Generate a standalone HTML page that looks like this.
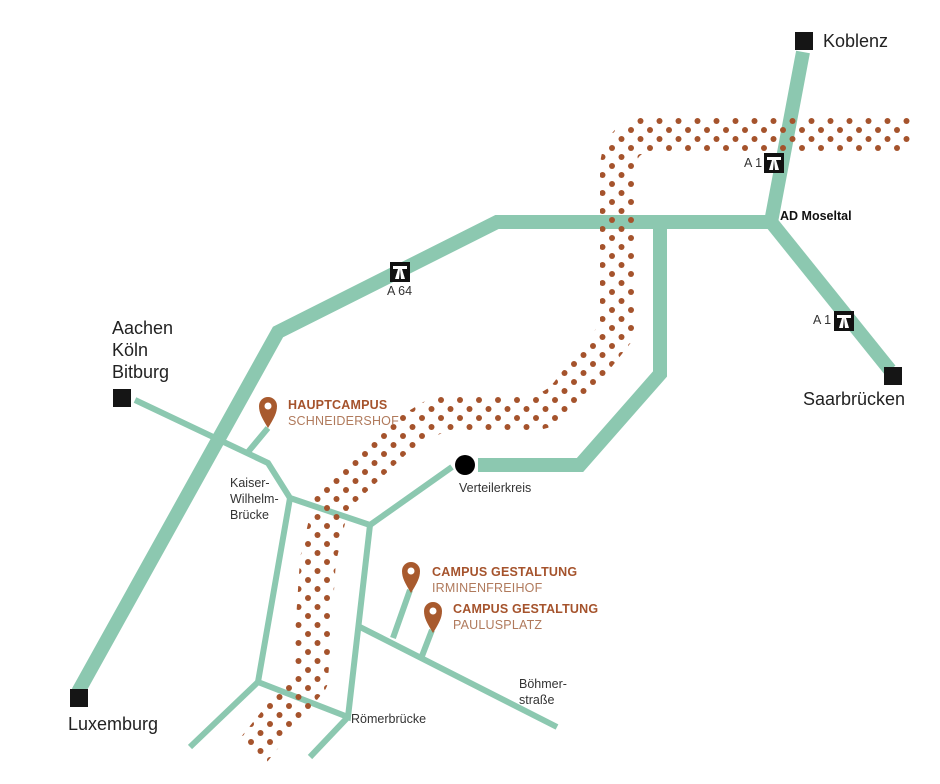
<!DOCTYPE html>
<html><head><meta charset="utf-8"><style>
html,body{margin:0;padding:0;background:#fff;}
svg{display:block;}
text{font-family:"Liberation Sans","DejaVu Sans",sans-serif;}
</style></head><body>
<svg width="940" height="784" viewBox="0 0 940 784" xmlns="http://www.w3.org/2000/svg">
<defs>
<pattern id="dots" width="19" height="18" patternUnits="userSpaceOnUse">
<circle cx="4" cy="4" r="3" fill="#a5532c"/>
<circle cx="13.5" cy="13" r="3" fill="#a5532c"/>
</pattern>
<mask id="rm">
<path d="M 912 134 L 655 134 Q 618 134 618 170 L 618 330 L 572 388 Q 556 413 525 413 L 440 413 L 395 440 L 332 500 L 318 560 L 310 680 L 252 752" fill="none" stroke="#fff" stroke-width="36" stroke-linejoin="round"/>
</mask>
<g id="ab">
<rect x="0" y="0" width="20" height="20" fill="#111"/>
<rect x="3" y="4" width="14" height="3" fill="#fff"/>
<path d="M8 7 L5 17 L9 17 L10 7 Z M12 7 L15 17 L11 17 L10 7 Z" fill="#fff"/>
</g>
</defs>
<g fill="none" stroke="#8cc8b0" stroke-linejoin="miter">
<path d="M 803 52 L 771 222 L 497 222 L 278 332 L 78 692" stroke-width="14"/>
<path d="M 771 222 L 890 370" stroke-width="14"/>
<path d="M 660 222 L 660 374 L 580 465 L 478 465" stroke-width="14"/>
<g stroke-width="6">
<path d="M 135 400 L 268 463 L 290 498 L 370 525 L 452 467"/>
<path d="M 268 428 L 248 452"/>
<path d="M 290 498 L 258 682 L 348 717 L 370 525"/>
<path d="M 258 682 L 190 747"/>
<path d="M 348 717 L 310 757"/>
<path d="M 360 627 L 557 727"/>
<path d="M 410 590 L 393 638"/>
<path d="M 432 630 L 422 656"/>
</g>
</g>
<rect x="0" y="0" width="940" height="784" fill="url(#dots)" mask="url(#rm)"/>
<rect x="795" y="32" width="18" height="18" fill="#151515"/>
<rect x="884" y="367" width="18" height="18" fill="#151515"/>
<rect x="113" y="389" width="18" height="18" fill="#151515"/>
<rect x="70" y="689" width="18" height="18" fill="#151515"/>
<circle cx="465" cy="465" r="10" fill="#000"/>
<use href="#ab" x="764" y="153"/>
<use href="#ab" x="834" y="311"/>
<use href="#ab" x="390" y="262"/>
<g fill="#a85a2e">
<path d="M268 428 C262 418 259 413 259 406 A9 9 0 0 1 277 406 C277 413 274 418 268 428Z"/>
<path d="M411 593 C405 583 402 578 402 571 A9 9 0 0 1 420 571 C420 578 417 583 411 593Z"/>
<path d="M433 633 C427 623 424 618 424 611 A9 9 0 0 1 442 611 C442 618 439 623 433 633Z"/>
</g>
<g fill="#fff"><circle cx="268" cy="406" r="3.5"/><circle cx="411" cy="571" r="3.5"/><circle cx="433" cy="611" r="3.5"/></g>
<g fill="#222" font-size="18">
<text x="823" y="47">Koblenz</text>
<text x="803" y="405">Saarbrücken</text>
<text x="112" y="334">Aachen</text>
<text x="112" y="356">Köln</text>
<text x="112" y="378">Bitburg</text>
<text x="68" y="730">Luxemburg</text>
</g>
<g fill="#333" font-size="12.5">
<text x="744" y="167">A 1</text>
<text x="813" y="324">A 1</text>
<text x="387" y="295">A 64</text>
<text x="780" y="220" font-weight="bold" fill="#111">AD Moseltal</text>
<text x="459" y="492">Verteilerkreis</text>
<text x="230" y="487">Kaiser-</text>
<text x="230" y="503">Wilhelm-</text>
<text x="230" y="519">Brücke</text>
<text x="351" y="723">Römerbrücke</text>
<text x="519" y="688">Böhmer-</text>
<text x="519" y="704">straße</text>
</g>
<g font-size="12.5" letter-spacing="0.2">
<text x="288" y="409" fill="#a5532c" font-weight="bold">HAUPTCAMPUS</text>
<text x="288" y="425" fill="#b07a5c">SCHNEIDERSHOF</text>
<text x="432" y="576" fill="#a5532c" font-weight="bold">CAMPUS GESTALTUNG</text>
<text x="432" y="592" fill="#b07a5c">IRMINENFREIHOF</text>
<text x="453" y="613" fill="#a5532c" font-weight="bold">CAMPUS GESTALTUNG</text>
<text x="453" y="629" fill="#b07a5c">PAULUSPLATZ</text>
</g>
</svg>
</body></html>
